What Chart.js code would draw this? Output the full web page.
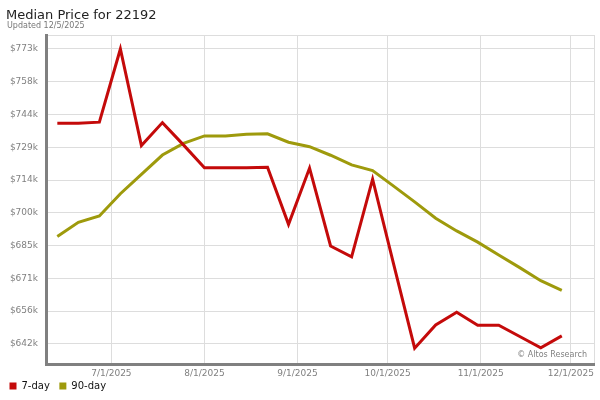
<!DOCTYPE html>
<html>
<head>
<meta charset="utf-8">
<title>Median Price for 22192</title>
<script src="https://cdn.jsdelivr.net/npm/chart.js@4.4.1/dist/chart.umd.min.js"></script>
<style>
  body { margin: 0; background: #fff; }
  #wrap { width: 600px; height: 400px; }
</style>
</head>
<body>
<div id="wrap"><canvas id="priceChart" width="600" height="400"></canvas></div>
<script>
// Median Price chart - weekly points, values in $k

const weekDates = ['2025-06-13', '2025-06-20', '2025-06-27', '2025-07-04', '2025-07-11',
    '2025-07-18', '2025-07-25', '2025-08-01', '2025-08-08', '2025-08-15', '2025-08-22',
    '2025-08-29', '2025-09-05', '2025-09-12', '2025-09-19', '2025-09-26', '2025-10-03',
    '2025-10-10', '2025-10-17', '2025-10-24', '2025-10-31', '2025-11-07', '2025-11-14',
    '2025-11-21', '2025-11-28'];

const sevenDay = [740.0, 740.0, 740.5, 773.0, 730.1, 740.3, 730.4, 720.2, 720.2, 720.3,
    720.5, 695.1, 720.1, 685.5, 680.7, 715.2, 677.5, 640.1, 650.4, 656.1, 650.3, 650.3,
    645.3, 640.3, 645.6];

const ninetyDay = [689.7, 696.0, 698.8, 708.7, 717.3, 725.9, 731.1, 734.4, 734.4, 735.1,
    735.3, 731.6, 729.6, 725.8, 721.5, 719.0, 712.1, 705.1, 697.8, 692.2, 687.2, 681.5,
    675.9, 670.1, 665.8];

const yTickValues = [642.0, 656.6, 671.1, 685.7, 700.2, 714.8, 729.3, 743.9, 758.4, 773.0];
const yTickLabels = ['$642k', '$656k', '$671k', '$685k', '$700k', '$714k', '$729k', '$744k', '$758k', '$773k'];

const monthTicks = ['2025-07-01', '2025-08-01', '2025-09-01', '2025-10-01', '2025-11-01', '2025-12-01'];
const monthLabels = ['7/1/2025', '8/1/2025', '9/1/2025', '10/1/2025', '11/1/2025', '12/1/2025'];

// axis bounds
const xMin = Date.parse('2025-06-09T05:30:00Z');
const xMax = Date.parse('2025-12-08T17:30:00Z');
const yMin = 633.1;
const yMax = 779.2;

const redColor = '#c40a0a';
const oliveColor = '#9e9a0c';
const gridColor = '#dddddd';
const axisColor = '#808080';

Chart.defaults.font.family = "'DejaVu Sans', Verdana, sans-serif";

function toPoints(values) {
    return values.map((v, i) => ({ x: Date.parse(weekDates[i]), y: v }));
}

// title, subtitle and watermark; legend pulled up under the axis labels
const textPlugin = {
    id: 'chartText',
    afterLayout(chart) {
        if (chart.legend) {
            chart.legend.top -= 7.5;
            chart.legend.bottom -= 7.5;
        }
    },
    afterDraw(chart) {
        const ctx = chart.ctx;
        const area = chart.chartArea;
        ctx.save();
        ctx.textAlign = 'left';
        ctx.textBaseline = 'alphabetic';
        ctx.fillStyle = '#222';
        ctx.font = "13px 'DejaVu Sans'";
        ctx.fillText('Median Price for 22192', 6, 18.5);
        ctx.fillStyle = '#777';
        ctx.font = "8px 'DejaVu Sans'";
        ctx.fillText('Updated 12/5/2025', 7, 28);
        ctx.textAlign = 'right';
        ctx.fillStyle = '#808080';
        ctx.fillText('\u00A9 Altos Research', area.right - 7, area.bottom - 7);
        ctx.restore();
    }
};

const ctx = document.getElementById('priceChart');
new Chart(ctx, {
    type: 'line',
    data: {
        datasets: [{
            label: '7-day',
            data: toPoints(sevenDay),
            borderColor: redColor,
            backgroundColor: redColor,
            borderWidth: 3,
            pointRadius: 0,
            tension: 0,
            fill: false
        }, {
            label: '90-day',
            data: toPoints(ninetyDay),
            borderColor: oliveColor,
            backgroundColor: oliveColor,
            borderWidth: 3,
            pointRadius: 0,
            tension: 0,
            fill: false
        }]
    },
    options: {
        responsive: false,
        animation: false,
        layout: {
            padding: { top: 35, right: 6, bottom: -8.5, left: 0 }
        },
        plugins: {
            tooltip: { enabled: false },
            legend: {
                position: 'bottom',
                align: 'start',
                labels: {
                    boxWidth: 7,
                    boxHeight: 7,
                    padding: 9.5,
                    color: '#111',
                    font: { size: 10 },
                    generateLabels: function(chart) {
                        const items = Chart.defaults.plugins.legend.labels.generateLabels(chart);
                        items.forEach(item => { item.lineWidth = 0; });
                        return items;
                    }
                }
            }
        },
        scales: {
            x: {
                type: 'linear',
                min: xMin,
                max: xMax,
                afterBuildTicks: function(scale) {
                    scale.ticks = monthTicks.map(d => ({ value: Date.parse(d) }));
                    scale.ticks.push({ value: xMax });
                },
                afterFit: function(scale) {
                    scale.height = 15;
                },
                ticks: {
                    autoSkip: false,
                    maxRotation: 0,
                    padding: 4,
                    color: axisColor,
                    font: { size: 9 },
                    callback: function(value, index) {
                        return monthLabels[index] || '';
                    }
                },
                grid: { color: gridColor, drawTicks: false },
                border: { color: axisColor, width: 3 }
            },
            y: {
                min: yMin,
                max: yMax,
                afterBuildTicks: function(scale) {
                    scale.ticks = yTickValues.map(v => ({ value: v }));
                    scale.ticks.push({ value: yMax });
                },
                afterFit: function(scale) {
                    scale.width = 46;
                },
                ticks: {
                    autoSkip: false,
                    padding: 8,
                    color: axisColor,
                    font: { size: 9 },
                    callback: function(value, index) {
                        return yTickLabels[index] || '';
                    }
                },
                grid: { color: gridColor, drawTicks: false },
                border: { color: axisColor, width: 3 }
            }
        }
    },
    plugins: [textPlugin]
});
</script>
</body>
</html>
